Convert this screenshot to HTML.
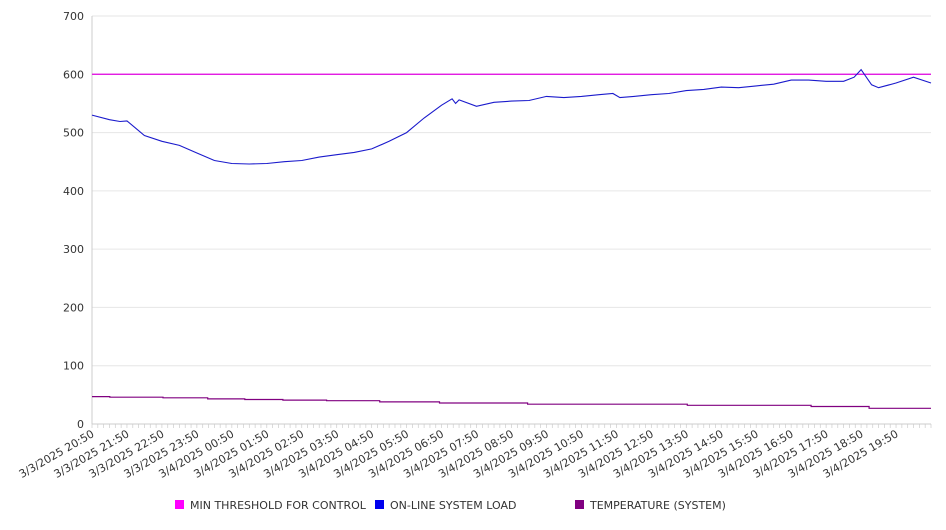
<!DOCTYPE html>
<html><head><meta charset="utf-8"><style>
body{margin:0;background:#fff;font-family:"DejaVu Sans","Liberation Sans",sans-serif}
</style></head><body>
<svg id="c" width="946" height="526" xmlns="http://www.w3.org/2000/svg"></svg>
<script>
const xLabels=["3/3/2025 20:50","3/3/2025 21:50","3/3/2025 22:50","3/3/2025 23:50","3/4/2025 00:50","3/4/2025 01:50","3/4/2025 02:50","3/4/2025 03:50","3/4/2025 04:50","3/4/2025 05:50","3/4/2025 06:50","3/4/2025 07:50","3/4/2025 08:50","3/4/2025 09:50","3/4/2025 10:50","3/4/2025 11:50","3/4/2025 12:50","3/4/2025 13:50","3/4/2025 14:50","3/4/2025 15:50","3/4/2025 16:50","3/4/2025 17:50","3/4/2025 18:50","3/4/2025 19:50"];
const yTicks=[0,100,200,300,400,500,600,700];
const threshold=600;
const loadHours=[0,0.5,0.8,1,1.5,2,2.5,3,3.5,4,4.5,5,5.5,6,6.5,7,7.5,8,8.5,9,9.5,10,10.3,10.4,10.5,11,11.5,12,12.5,13,13.5,14,14.5,14.9,15.1,15.5,16,16.5,17,17.5,18,18.5,19,19.5,20,20.5,21,21.5,21.8,22,22.3,22.5,23,23.5,24];
const loadValues=[530,522,519,520,495,485,478,465,452,447,446,447,450,452,458,462,466,472,485,500,525,547,558,550,556,545,552,554,555,562,560,562,565,567,560,562,565,567,572,574,578,577,580,583,590,590,588,588,595,608,582,577,585,595,585];
const tempHours=[0,0.51,2.03,3.31,4.37,5.46,6.71,8.23,9.94,12.46,17.03,20.57,22.23,24];
const tempValues=[47,46,45,43,42,41,40,38,36,34,32,30,27,27];
const NS="http://www.w3.org/2000/svg",svg=document.getElementById('c');
const X0=92,X1=931,Y0=424,Y1=16;
const sx=h=>X0+(X1-X0)*h/24, sy=v=>Y0-(Y0-Y1)*v/700;
function mk(t,a,txt){const e=document.createElementNS(NS,t);for(const k in a)e.setAttribute(k,a[k]);if(txt!=null)e.textContent=txt;svg.appendChild(e);return e;}
yTicks.forEach(v=>{
 const g=mk('line',{x1:X0,x2:X1,y1:sy(v),y2:sy(v),stroke:v===0?'#ccc':'#e6e6e6','stroke-width':1});
 
 
 const t=mk('text',{x:84,y:sy(v)+4,'text-anchor':'end','font-size':11,fill:'#333'},v);
 
 
});
mk('line',{x1:X0,x2:X0,y1:Y1,y2:Y0,stroke:'#ccc'});
for(let i=0;i<=144;i++){const x=sx(i/6);mk('line',{x1:x,x2:x,y1:Y0,y2:Y0+4,stroke:'#ccc','stroke-width':0.7});}
xLabels.forEach((l,i)=>{
 const x=sx(i)+3,y=Y0+12;
 const t=mk('text',{x:x,y:y,'text-anchor':'end','font-size':11,fill:'#333',transform:`rotate(-30 ${x} ${y})`},l);
 
 
});
const th=mk('line',{x1:X0,x2:X1,y1:sy(threshold),y2:sy(threshold),stroke:'#e000e0','stroke-width':1.2});


let d=loadHours.map((h,i)=>(i?'L':'M')+sx(h).toFixed(1)+','+sy(loadValues[i]).toFixed(1)).join('');
const lp=mk('path',{d:d,fill:'none',stroke:'#1a1acc','stroke-width':1.1});


let td='';tempHours.forEach((h,i)=>{td+=(i?'L'+sx(h).toFixed(1)+','+sy(tempValues[i-1]).toFixed(1)+'L':'M')+sx(h).toFixed(1)+','+sy(tempValues[i]).toFixed(1);});
const tp=mk('path',{d:td,fill:'none',stroke:'#800080','stroke-width':1.2});


[["MIN THRESHOLD FOR CONTROL","#ff00ff",175],["ON-LINE SYSTEM LOAD","#0000ee",375],["TEMPERATURE (SYSTEM)","#800080",575]].forEach(([n,c,x])=>{
 const r=mk('rect',{x:x,y:500,width:9,height:9,fill:c});
 
 
 const t=mk('text',{x:x+15,y:509,'font-size':11,fill:'#333'},n);
 
 
});
</script>
</body></html>
